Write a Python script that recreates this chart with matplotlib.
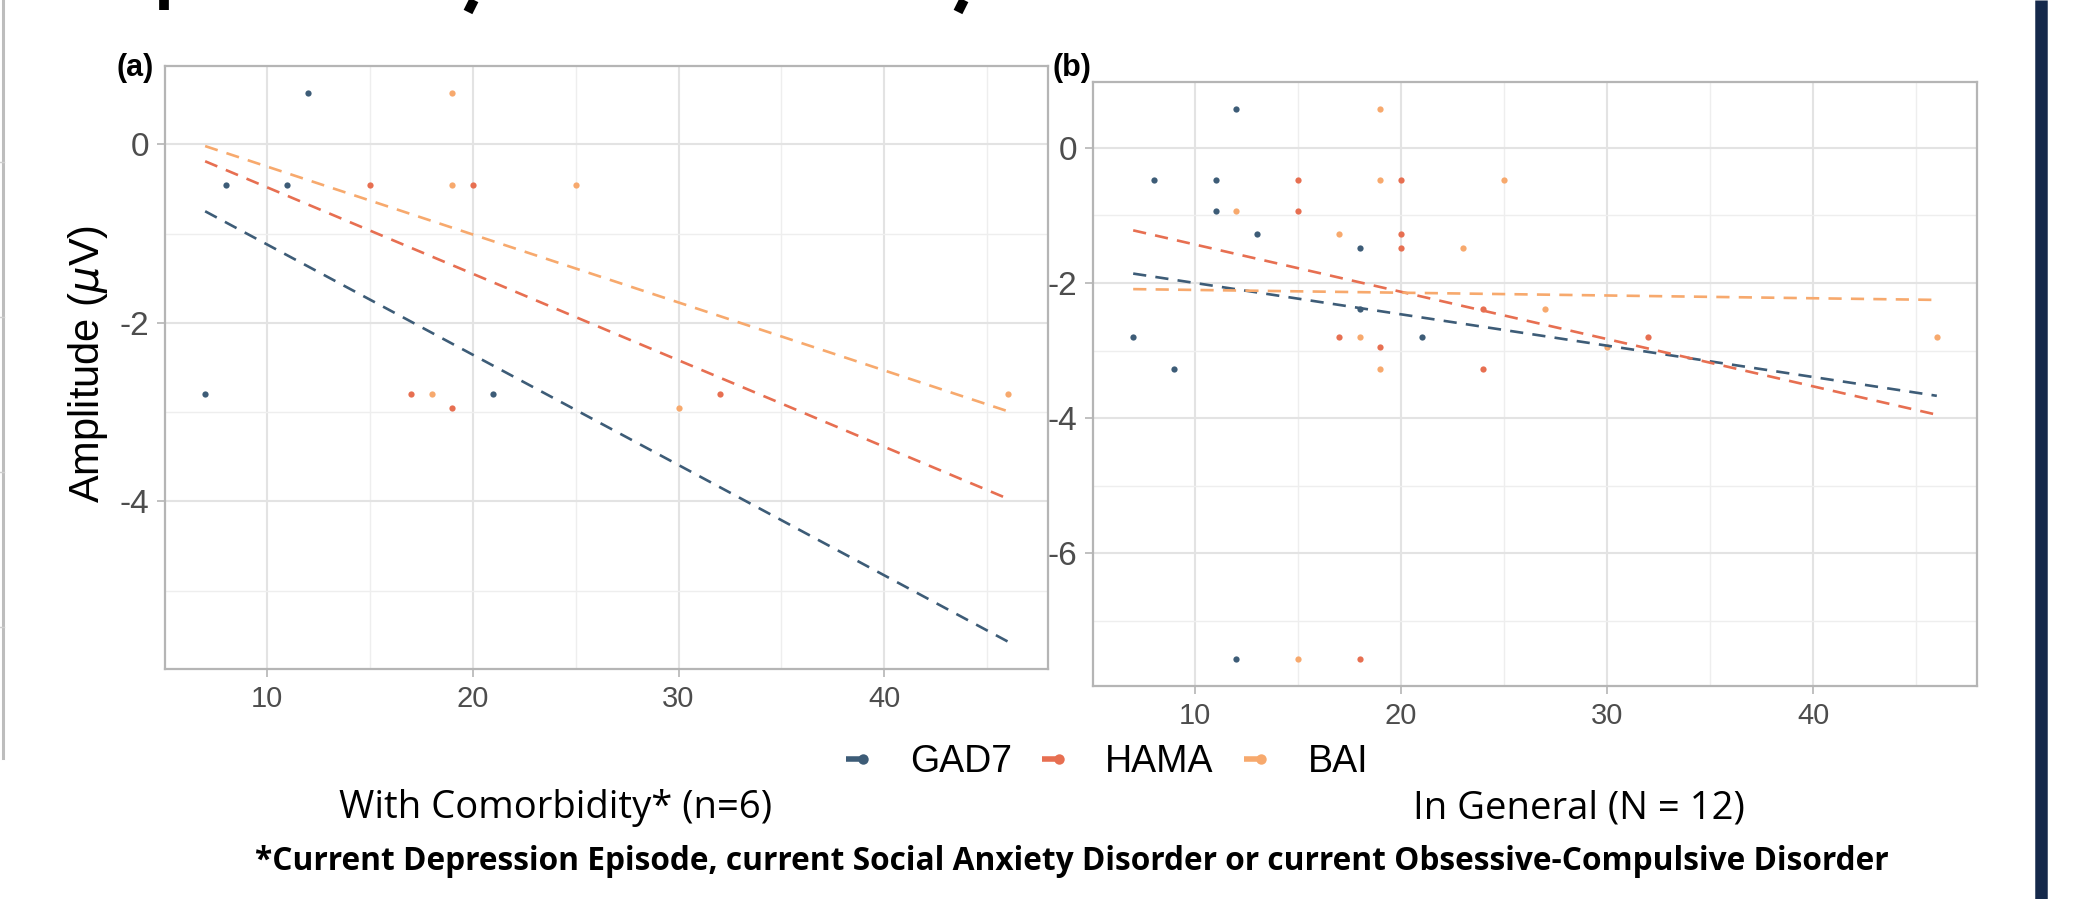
import matplotlib
matplotlib.use('Agg')
import matplotlib.pyplot as plt
from matplotlib.lines import Line2D
from matplotlib.legend_handler import HandlerBase
from matplotlib.ticker import MultipleLocator

# panel (a): with comorbidity
a_gad7_x = [7, 8, 11, 12, 21]
a_gad7_y = [-2.80, -0.46, -0.46, 0.57, -2.80]
a_hama_x = [15, 17, 19, 20, 32]
a_hama_y = [-0.46, -2.80, -2.95, -0.46, -2.80]
a_bai_x = [18, 19, 19, 25, 30, 46]
a_bai_y = [-2.80, 0.57, -0.46, -0.46, -2.95, -2.80]

# panel (b): in general
b_gad7_x = [7, 8, 9, 11, 11, 12, 12, 13, 18, 18, 21]
b_gad7_y = [-2.80, -0.47, -3.27, -0.47, -0.93, 0.57, -7.56, -1.27, -1.48, -2.38, -2.80]
b_hama_x = [15, 15, 17, 18, 19, 20, 20, 20, 24, 24, 32]
b_hama_y = [-0.47, -0.93, -2.80, -7.56, -2.95, -0.47, -1.27, -1.48, -2.38, -3.27, -2.80]
b_bai_x = [12, 15, 17, 18, 19, 19, 19, 23, 25, 27, 30, 46]
b_bai_y = [-0.93, -7.56, -1.27, -2.80, 0.57, -0.47, -3.27, -1.48, -0.47, -2.38, -2.95, -2.80]

# linear trend lines, value at first and last x
trend_x = [7, 46]
a_fits = {'GAD7': [-0.75, -5.57], 'HAMA': [-0.19, -3.97], 'BAI': [-0.02, -2.99]}
b_fits = {'GAD7': [-1.86, -3.67], 'HAMA': [-1.22, -3.95], 'BAI': [-2.09, -2.25]}

scales = ['GAD7', 'HAMA', 'BAI']
colors = {'GAD7': '#3d5c77', 'HAMA': '#e76f51', 'BAI': '#f7a96d'}

plt.rcParams['axes.unicode_minus'] = False
plt.rcParams['font.family'] = ['Liberation Sans', 'DejaVu Sans']

W, H = 2075, 899
fig = plt.figure(figsize=(W / 100, H / 100), dpi=100)


def box(l, t, r, b):
    return [l / W, 1 - b / H, (r - l) / W, (b - t) / H]


def style(ax):
    ax.set_facecolor('white')
    for s in ax.spines.values():
        s.set_color('#b5b5b5')
        s.set_linewidth(1.6)
    ax.xaxis.set_major_locator(MultipleLocator(10))
    ax.xaxis.set_minor_locator(MultipleLocator(5))
    ax.yaxis.set_major_locator(MultipleLocator(2))
    ax.yaxis.set_minor_locator(MultipleLocator(1))
    ax.grid(which='major', color='#e3e3e3', lw=1.5)
    ax.grid(which='minor', color='#eeeeee', lw=1.0)
    ax.set_axisbelow(True)
    ax.tick_params(which='major', length=5.5, width=1.2, color='#b5b5b5',
                   labelcolor='#4d4d4d', pad=6)
    ax.tick_params(which='minor', length=0)
    ax.tick_params(axis='x', labelsize=21)
    ax.tick_params(axis='y', labelsize=24)


def panel(ax, data, fits):
    style(ax)
    for name in scales:
        x, y = data[name]
        ax.plot(x, y, 'o', ms=4.5, color=colors[name], mec='none', zorder=3)
        ax.plot(trend_x, fits[name], color=colors[name], lw=1.9,
                linestyle=(0, (5, 3.5)), zorder=4)


ax_a = fig.add_axes(box(165, 66, 1048, 669))
panel(ax_a, {'GAD7': (a_gad7_x, a_gad7_y), 'HAMA': (a_hama_x, a_hama_y),
             'BAI': (a_bai_x, a_bai_y)}, a_fits)

ax_b = fig.add_axes(box(1093, 82, 1977, 686))
panel(ax_b, {'GAD7': (b_gad7_x, b_gad7_y), 'HAMA': (b_hama_x, b_hama_y),
             'BAI': (b_bai_x, b_bai_y)}, b_fits)

fig.text(88 / W, 1 - 364 / H, r'Amplitude ($\mu$V)', rotation=90,
         ha='center', va='center', fontsize=30, color='black')
fig.text(116 / W, 1 - 68 / H, '(a)', fontsize=22, fontweight='bold', va='center')
fig.text(1053 / W, 1 - 68 / H, '(b)', fontsize=22, fontweight='bold', va='center')


class KeyHandler(HandlerBase):
    def create_artists(self, legend, orig_handle, xdescent, ydescent,
                       width, height, fontsize, trans):
        c = orig_handle.get_color()
        y = height / 2 - ydescent
        x0 = -xdescent
        line = Line2D([x0, x0 + width * 0.72], [y, y], color=c, lw=4,
                      solid_capstyle='butt', transform=trans)
        dot = Line2D([x0 + width * 0.78], [y], marker='o', ms=7.5, color=c,
                     mec='none', transform=trans)
        return [line, dot]


handles = [Line2D([], [], color=colors[n]) for n in scales]
fig.legend(handles, scales, loc='center', bbox_to_anchor=(1107 / W, 1 - 762 / H),
           ncol=3, frameon=False, fontsize=27, handlelength=0.6,
           handletextpad=1.1, columnspacing=0.8,
           handler_map={Line2D: KeyHandler()})

cap_font = ['Open Sans', 'DejaVu Sans']
fig.text(556 / W, 1 - 808 / H, 'With Comorbidity* (n=6)', ha='center', va='center',
         fontsize=27.5, family=cap_font)
fig.text(1579 / W, 1 - 808 / H, 'In General (N = 12)', ha='center', va='center',
         fontsize=27.5, family=cap_font)
fig.text(1072 / W, 1 - 862 / H,
         '*Current Depression Episode, current Social Anxiety Disorder or current '
         'Obsessive-Compulsive Disorder',
         ha='center', va='center', fontsize=22.8, fontweight='bold', family=cap_font)

# decorations from the surrounding slide: clipped title descenders, frame, side bar
for xs, ys in [([164, 164], [0, 10]), ([474, 468], [0, 12]), ([964, 958], [0, 12])]:
    fig.add_artist(Line2D([x / W for x in xs], [1 - y / H for y in ys],
                          color='black', lw=7, solid_capstyle='butt'))
fig.add_artist(Line2D([2.5 / W, 2.5 / W], [1, 1 - 758 / H], color='#bdbdbd', lw=2.2))
for ty in [162, 317, 472, 627]:
    fig.add_artist(Line2D([0, 4 / W], [1 - ty / H] * 2, color='#cfcfcf', lw=1))
fig.add_artist(Line2D([2041 / W, 2041 / W], [0, 1], color='#15294b', lw=9,
                      solid_capstyle='butt'))

fig.savefig('out.png', dpi=100, facecolor='white')
